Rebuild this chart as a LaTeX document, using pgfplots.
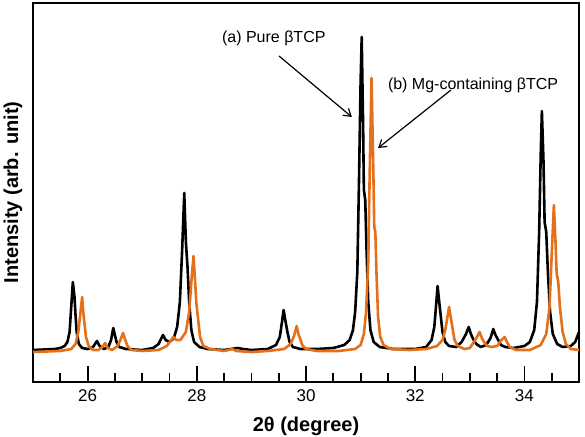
\documentclass[border=0pt]{standalone}
\usepackage{fontspec}
\setmainfont{Liberation Sans}
\usepackage{pgfplots}
\pgfplotsset{compat=1.18}
\usetikzlibrary{arrows.meta}
\definecolor{mgorange}{RGB}{230,112,25}

\pgfplotstableread{
x y
25.00 32
25.40 33
25.50 34
25.58 36
25.63 40
25.67 50
25.70 75
25.73 100
25.76 85
25.78 66
25.80 50
25.84 38
25.90 34
26.00 33
26.10 35
26.17 41
26.22 36
26.30 33
26.38 35
26.43 42
26.47 54
26.50 47
26.53 40
26.58 35
26.70 33
27.00 32
27.20 34
27.30 38
27.38 47
27.43 42
27.50 40
27.58 44
27.64 55
27.69 80
27.73 130
27.77 189
27.80 140
27.83 115
27.86 80
27.90 52
27.95 40
28.05 35
28.20 33
28.50 32
28.75 34
28.85 33
29.00 32
29.30 33
29.45 37
29.52 45
29.56 60
29.59 72
29.62 62
29.66 50
29.70 40
29.76 35
29.90 33
30.20 33
30.50 34
30.70 37
30.80 42
30.86 52
30.90 70
30.94 110
30.97 200
31.00 300
31.02 345
31.045 260
31.06 192
31.085 182
31.11 130
31.14 80
31.18 52
31.24 40
31.35 35
31.60 33
32.00 33
32.20 35
32.30 42
32.35 55
32.38 75
32.41 96
32.44 80
32.47 65
32.50 50
32.55 40
32.62 36
32.75 35
32.85 40
32.93 48
32.98 55
33.02 48
33.07 42
33.12 38
33.20 35
33.30 37
33.38 44
33.43 53
33.47 47
33.52 42
33.57 37
33.65 35
33.80 34
34.00 36
34.10 40
34.18 52
34.23 80
34.27 150
34.30 230
34.32 271
34.35 220
34.37 160
34.40 150
34.43 110
34.47 70
34.52 48
34.60 38
34.70 35
34.85 36
34.93 40
35.00 50
}\pureTCP

\pgfplotstableread{
x y
25.00 30
25.50 31
25.70 33
25.78 38
25.83 50
25.87 70
25.90 85
25.92 70
25.94 60
25.97 45
26.02 36
26.10 32
26.20 32
26.27 35
26.32 39
26.37 34
26.45 32
26.55 36
26.60 42
26.65 49
26.69 42
26.73 36
26.80 32
27.00 31
27.30 32
27.45 36
27.53 42
27.57 45
27.62 42
27.70 42
27.80 50
27.86 70
27.90 100
27.94 126
27.97 100
27.99 80
28.02 65
28.06 45
28.12 36
28.25 33
28.50 31
28.65 33
28.72 31
29.00 30
29.30 31
29.60 33
29.72 38
29.78 46
29.83 56
29.86 48
29.89 44
29.93 37
30.00 33
30.20 31
30.60 31
30.90 33
31.00 37
31.06 48
31.10 70
31.14 120
31.17 220
31.20 304
31.23 220
31.25 155
31.27 150
31.29 110
31.32 65
31.36 45
31.42 37
31.55 33
31.90 32
32.20 33
32.40 36
32.50 42
32.55 52
32.59 65
32.62 75
32.65 65
32.68 55
32.72 42
32.78 36
32.90 33
33.00 34
33.10 42
33.18 50
33.22 44
33.26 40
33.32 36
33.40 35
33.50 36
33.58 42
33.64 45
33.68 40
33.73 35
33.85 32
34.10 32
34.30 37
34.40 48
34.46 75
34.51 140
34.54 177
34.57 140
34.59 109
34.62 100
34.65 75
34.70 50
34.76 38
34.85 33
35.00 32
}\mgTCP

\begin{document}
\begin{tikzpicture}
\begin{axis}[
  at={(0,0)}, anchor=south west, scale only axis,
  width=546pt, height=379pt,
  xmin=25, xmax=35, ymin=0, ymax=379,
  xtick={26,28,30,32,34},
  minor xtick={25.5,26.5,27,27.5,28.5,29,29.5,30.5,31,31.5,32.5,33,33.5,34.5},
  ytick=\empty,
  xtick pos=bottom, tick align=inside,
  major tick length=16pt, minor tick length=9pt,
  major tick style={black, line width=1.8pt},
  minor tick style={black, line width=1.8pt},
  axis line style={line width=2pt},
  /pgf/number format/assume math mode=true,
  xticklabel style={font=\fontsize{17}{20}\selectfont, yshift=-4pt},
  xlabel={\textbf{2θ (degree)}},
  xlabel style={font=\fontsize{20}{24}\selectfont, at={(axis description cs:0.5,0)}, anchor=center, yshift=-44pt},
  ylabel={\textbf{Intensity (arb. unit)}},
  ylabel style={font=\fontsize{20}{24}\selectfont, at={(axis description cs:-0.0366,0.5)}, anchor=center},
]
\addplot[black, line width=2.6pt, line join=round] table[x=x,y=y] {\pureTCP};
\addplot[mgorange, line width=2.6pt, line join=round] table[x=x,y=y] {\mgTCP};
\node[font=\fontsize{16}{19}\selectfont] at (axis cs:29.41,344) {(a) Pure βTCP};
\draw[line width=1.2pt, -{Straight Barb[length=7pt,width=9pt]}] (axis cs:29.505,326) -- (axis cs:30.84,265);
\node[font=\fontsize{16}{19}\selectfont] at (axis cs:33.06,297) {(b) Mg-containing βTCP};
\draw[line width=1.2pt, -{Straight Barb[length=7pt,width=9pt]}] (axis cs:32.655,292) -- (axis cs:31.32,234);
\end{axis}
\pgfresetboundingbox
\path (-33pt,-54pt) rectangle (552pt,382pt);
\end{tikzpicture}
\end{document}
